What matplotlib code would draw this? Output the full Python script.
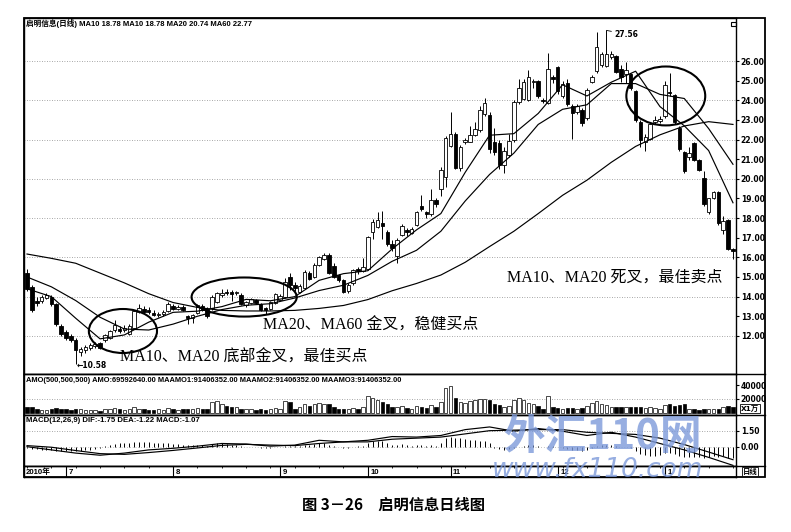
import matplotlib
matplotlib.use("Agg")
import matplotlib.pyplot as plt
from matplotlib.patches import Rectangle, Ellipse
import numpy as np

# ---------------- data ----------------
opens = [15.2, 14.5, 13.8, 13.8, 13.95, 14.0, 13.6, 12.5, 12.2, 12.0,
         11.8, 11.2, 11.3, 11.4, 11.5, 11.65, 11.8, 11.9, 12.3, 12.35,
         12.3, 12.1, 12.4, 13.2, 13.35, 13.3, 13.15, 13.05, 13.1, 13.25,
         13.5, 13.35, 13.45, 13.0, 12.9, 13.15, 13.5, 13.35, 13.4, 13.75,
         14.1, 14.25, 14.25, 14.2, 14.1, 13.55, 13.7, 13.85, 13.65, 13.4,
         13.35, 13.7, 13.85, 14.0, 15.0, 14.6, 14.25, 14.45, 15.2, 15.0,
         15.6, 15.9, 16.1, 15.55, 15.1, 14.85, 14.3, 14.7, 15.4, 15.3,
         15.4, 17.3, 17.55, 17.75, 17.3, 16.7, 16.05, 17.15, 17.4, 17.25,
         17.65, 18.6, 18.3, 18.2, 18.9, 19.5, 20.1, 21.65, 22.3, 20.55,
         21.9, 21.9, 22.25, 22.5, 23.3, 23.25, 21.9, 21.8, 20.7, 21.2,
         22.0, 23.9, 24.05, 24.0, 24.95, 25.0, 24.0, 23.85, 25.2, 25.7,
         24.2, 24.9, 23.7, 23.4, 23.5, 23.1, 24.95, 25.5, 25.8, 25.75,
         26.2, 26.25, 25.6, 25.35, 25.35, 24.45, 22.9, 21.9, 22.05, 22.9,
         22.95, 23.2, 24.4, 24.25, 22.6, 21.35, 21.1, 21.8, 20.95, 20.05,
         18.3, 19.0, 19.35, 17.4, 17.9, 16.45]
highs = [15.4, 14.6, 14.0, 14.1, 14.2, 14.1, 13.7, 12.6, 12.3, 12.1,
         11.9, 11.45, 11.55, 11.65, 11.7, 11.7, 12.1, 12.3, 12.8, 12.5,
         12.55, 12.6, 13.3, 13.6, 13.5, 13.45, 13.3, 13.2, 13.3, 13.75,
         13.6, 13.55, 13.55, 13.05, 13.1, 13.6, 13.6, 13.45, 14.1, 14.25,
         14.4, 14.4, 14.35, 14.3, 14.2, 13.8, 13.95, 13.9, 13.7, 13.45,
         13.8, 14.2, 14.15, 14.95, 15.2, 14.75, 14.65, 15.35, 15.3, 15.7,
         16.05, 16.2, 16.2, 15.7, 15.15, 14.9, 14.7, 15.4, 15.5, 15.95,
         17.1, 17.95, 18.33, 18.35, 17.4, 16.9, 17.0, 17.7, 17.5, 17.55,
         18.35, 19.2, 18.35, 19.5, 19.0, 20.6, 22.2, 23.4, 22.4, 21.7,
         22.1, 22.7, 22.9, 23.7, 24.1, 23.4, 22.6, 22.0, 21.6, 22.3,
         24.0, 25.1, 25.1, 25.55, 25.1, 25.05, 24.1, 26.4, 25.3, 25.75,
         25.0, 25.1, 23.8, 23.8, 23.6, 24.6, 25.3, 27.5, 26.45, 27.56,
         26.5, 26.3, 25.8, 25.95, 25.4, 24.5, 23.0, 22.3, 22.9, 23.2,
         23.2, 25.0, 25.4, 24.3, 22.7, 21.4, 21.6, 21.85, 21.0, 20.4,
         19.0, 19.4, 19.4, 18.1, 17.95, 16.5]
lows = [14.3, 13.2, 13.5, 13.7, 13.9, 13.5, 12.5, 12.0, 11.8, 11.7,
        10.58, 11.0, 11.15, 11.3, 11.4, 11.35, 11.7, 11.85, 12.2, 12.15,
        12.2, 12.05, 12.35, 13.15, 13.1, 13.1, 13.0, 12.95, 13.0, 13.2,
        13.3, 13.3, 13.25, 12.6, 12.65, 13.1, 13.25, 12.9, 13.3, 13.7,
        14.0, 14.1, 13.8, 14.1, 13.55, 13.45, 13.6, 13.6, 13.25, 13.1,
        13.3, 13.65, 13.8, 13.95, 14.35, 14.3, 14.2, 14.4, 14.85, 14.95,
        15.55, 15.85, 15.15, 14.95, 14.75, 14.2, 14.2, 14.6, 15.15, 15.25,
        15.35, 16.95, 17.5, 16.95, 16.6, 16.3, 15.7, 17.1, 17.1, 17.2,
        17.6, 18.35, 18.0, 18.1, 18.55, 19.1, 19.6, 21.6, 20.5, 20.4,
        21.75, 21.85, 22.2, 22.4, 23.2, 21.3, 21.2, 20.5, 20.3, 21.1,
        21.85, 23.8, 24.0, 23.95, 24.6, 24.1, 23.85, 23.8, 24.9, 24.3,
        24.1, 23.7, 22.05, 23.3, 22.7, 23.0, 24.9, 25.4, 25.7, 25.7,
        26.1, 25.4, 24.95, 24.9, 24.5, 22.9, 21.6, 21.4, 22.0, 22.8,
        22.85, 23.1, 24.2, 22.8, 21.4, 20.3, 20.95, 20.9, 20.4, 18.6,
        18.2, 18.95, 17.65, 17.2, 16.35, 15.9]
closes = [14.4, 13.3, 13.7, 14.0, 14.1, 13.6, 12.6, 12.1, 11.9, 11.8,
          11.3, 11.35, 11.45, 11.55, 11.6, 11.4, 12.05, 12.25, 12.55, 12.25,
          12.4, 12.5, 13.25, 13.4, 13.2, 13.2, 13.05, 13.1, 13.2, 13.65,
          13.35, 13.45, 13.3, 12.9, 13.05, 13.55, 13.3, 13.0, 14.0, 14.17,
          14.2, 14.2, 14.15, 14.25, 13.6, 13.75, 13.9, 13.7, 13.3, 13.3,
          13.75, 14.15, 14.05, 14.75, 14.6, 14.45, 14.55, 15.25, 14.9, 15.6,
          16.0, 16.1, 15.2, 15.0, 14.85, 14.26, 14.6, 15.35, 15.3, 15.5,
          17.05, 17.8, 17.9, 17.6, 16.7, 16.5, 16.9, 17.6, 17.3, 17.45,
          18.3, 18.45, 18.2, 18.9, 18.7, 20.45, 22.1, 22.3, 20.55, 21.6,
          22.0, 22.25, 22.55, 23.5, 23.85, 21.5, 21.35, 20.7, 21.4, 21.95,
          23.9, 24.6, 24.95, 25.2, 25.0, 24.2, 23.95, 25.6, 25.1, 24.45,
          24.85, 23.8, 23.35, 23.7, 22.85, 24.5, 25.2, 26.7, 26.35, 26.35,
          26.35, 25.45, 25.2, 25.55, 24.6, 23.0, 22.0, 22.15, 22.8, 23.0,
          23.05, 24.8, 24.35, 22.9, 21.5, 20.4, 21.3, 20.95, 20.45, 18.7,
          19.0, 19.35, 17.75, 17.85, 16.45, 16.3]

# moving averages, read every 5th trading day
ma_idx = list(range(0, 146, 5))
ma10 = [14.4, 14.0, 12.9, 11.85, 12.05, 12.7, 13.2, 13.26, 13.49, 13.86,
        13.79, 14.0, 14.83, 15.17, 15.32, 16.43, 17.4, 18.23, 20.33, 22.22,
        22.3, 23.33, 24.79, 24.22, 24.92, 25.48, 23.68, 22.7, 21.44, 18.78]
ma20 = [15.0, 14.5, 13.8, 12.95, 12.35, 12.3, 12.6, 13.0, 13.34, 13.56,
        13.64, 13.93, 14.31, 14.58, 15.08, 15.8, 16.36, 17.33, 18.87, 20.22,
        21.31, 22.77, 23.54, 23.77, 24.85, 24.85, 24.3, 24.09, 22.56, 20.74]
ma60 = [16.17, 15.95, 15.7, 15.2, 14.7, 14.15, 13.7, 13.45, 13.3, 13.27,
        13.27, 13.3, 13.4, 13.55, 13.85, 14.3, 14.67, 15.1, 15.75, 16.55,
        17.33, 18.23, 19.16, 19.93, 20.84, 21.65, 22.24, 22.69, 22.91, 22.77]

# turnover (x 1万)
amount = [8000, 9000, 5000, 4000, 4000, 5000, 7000, 6000, 5000, 4000,
          6000, 5000, 3500, 4000, 3500, 3000, 5000, 6000, 7000, 5000,
          4000, 5000, 9000, 6000, 5000, 4000, 4000, 5000, 4000, 7000,
          5000, 4500, 5000, 6000, 5000, 7000, 6000, 5000, 15000, 17000,
          12000, 10000, 9000, 8000, 6000, 5000, 5000, 4000, 5000, 4000,
          5000, 7000, 6000, 17000, 15000, 6000, 8000, 12000, 10000, 13000,
          14000, 12000, 13000, 8000, 6000, 6000, 5000, 7000, 6000, 8000,
          24000, 22000, 18000, 15000, 12000, 8000, 8000, 10000, 7000, 6000,
          10000, 9000, 7000, 11000, 8000, 15000, 36000, 39000, 22000, 15000,
          14000, 17000, 19000, 20000, 20000, 18000, 12000, 11000, 9000, 10000,
          19000, 22000, 19000, 14000, 12000, 10000, 6000, 25000, 9000, 7000,
          6000, 7000, 7000, 6000, 7000, 10000, 14000, 17000, 13000, 11000,
          9000, 9000, 8000, 8000, 8000, 9000, 8000, 7000, 8000, 7000,
          6000, 11000, 12000, 10000, 11000, 12000, 5000, 5000, 4000, 6000,
          5000, 5000, 6000, 9000, 10000, 8000]

# MACD lines (every 5th day) and histogram (every day)
dif = [0.0, -0.3, -0.6, -0.8, -0.6, -0.3, -0.15, 0.05, 0.3, 0.25,
       0.05, 0.15, 0.6, 0.45, 0.6, 0.95, 0.9, 1.05, 1.6, 1.85,
       1.45, 1.7, 1.45, 1.05, 1.35, 0.9, 0.3, -0.3, -1.0, -1.75]
dea = [0.1, -0.05, -0.36, -0.65, -0.72, -0.55, -0.35, -0.12, 0.12, 0.22,
       0.15, 0.1, 0.3, 0.45, 0.45, 0.7, 0.8, 0.9, 1.2, 1.5,
       1.55, 1.6, 1.6, 1.35, 1.25, 1.15, 0.8, 0.2, -0.5, -1.22]
macd_hist = [-0.1, -0.2, -0.25, -0.3, -0.3, -0.35, -0.4, -0.45, -0.45, -0.45,
             -0.45, -0.4, -0.35, -0.3, -0.2, -0.1, 0.05, 0.15, 0.25, 0.3,
             0.3, 0.35, 0.45, 0.45, 0.45, 0.4, 0.35, 0.3, 0.3, 0.3,
             0.25, 0.25, 0.2, 0.15, 0.15, 0.2, 0.15, 0.1, 0.25, 0.3,
             0.3, 0.25, 0.2, 0.15, 0.05, 0.0, 0.0, -0.05, -0.1, -0.15,
             -0.1, -0.05, -0.05, 0.05, 0.1, 0.05, 0.05, 0.15, 0.15, 0.25,
             0.35, 0.35, 0.2, 0.1, 0.0, -0.1, -0.1, 0.0, 0.05, 0.1,
             0.35, 0.5, 0.55, 0.5, 0.3, 0.2, 0.2, 0.25, 0.15, 0.1,
             0.15, 0.15, 0.1, 0.15, 0.1, 0.35, 0.8, 0.95, 0.85, 0.8,
             0.75, 0.65, 0.6, 0.55, 0.5, 0.3, -0.1, -0.25, -0.3, -0.25,
             -0.1, 0.0, 0.05, 0.2, 0.2, 0.05, -0.05, 0.1, 0.05, -0.05,
             -0.1, -0.25, -0.35, -0.35, -0.45, -0.3, -0.15, 0.1, 0.15, 0.2,
             0.2, 0.1, 0.0, 0.0, -0.15, -0.4, -0.7, -0.8, -0.85, -0.85,
             -0.8, -0.55, -0.55, -0.7, -0.9, -1.0, -0.95, -0.95, -0.95, -1.05,
             -0.95, -0.85, -0.95, -0.9, -1.05, -1.07]

month_idx = [8, 30, 52, 70, 87, 109, 131]
month_labels = ["7", "8", "9", "10", "11", "12", "1"]
year_label = "2010年"
price_ticks = list(range(12, 27))
amount_ticks = [20000, 40000]
macd_ticks = [0.0, 1.5]

main_title = "启明信息(日线) MA10 18.78 MA10 18.78 MA20 20.74 MA60 22.77"
amo_title = ("AMO(500,500,500) AMO:69592640.00 MAAMO1:91406352.00 "
             "MAAMO2:91406352.00 MAAMO3:91406352.00")
macd_title = "MACD(12,26,9) DIF:-1.75 DEA:-1.22 MACD:-1.07"
note1 = "MA10、MA20 底部金叉，最佳买点"
note2 = "MA20、MA60 金叉，稳健买点"
note3 = "MA10、MA20 死叉，最佳卖点"
caption = "图 3－26　启明信息日线图"

# ---------------- figure ----------------
W, H = 791, 532
fig = plt.figure(figsize=(W / 100, H / 100), dpi=100)
fig.patch.set_facecolor("white")

def fax(x0, y0, x1, y1):
    return fig.add_axes([x0 / W, 1 - y1 / H, (x1 - x0) / W, (y1 - y0) / H])

def ftxt(x, y, s, **kw):
    return fig.text(x / W, 1 - y / H, s, **kw)

SANS = ["Liberation Sans", "Noto Sans CJK SC"]
SERIF = ["Liberation Serif", "Noto Sans CJK SC"]
XL = (-0.62, 145.62)

ax = fax(24, 18, 736, 374)
axv = fax(24, 374, 736, 415)
axm = fax(24, 415, 736, 466)
axd = fax(24, 466, 736, 477)

for a in (ax, axv, axm, axd):
    a.set_xlim(*XL)
    a.set_xticks([])
    for s in a.spines.values():
        s.set_linewidth(1.0)
        s.set_color("black")

def right_ticks(a, ticks, fmt):
    a.yaxis.tick_right()
    a.set_yticks(ticks)
    a.set_yticklabels([fmt(t) for t in ticks])
    a.tick_params(axis="y", direction="out", length=2.5, width=0.8, pad=1,
                  labelsize=5.5)
    for lb in a.get_yticklabels():
        lb.set_fontweight("bold")

idx = np.arange(len(closes))
o = np.array(opens); c = np.array(closes)
h = np.array(highs); l = np.array(lows)
up = c >= o
face = np.where(up, "white", "black")

# ---- main price panel ----
ax.set_ylim(10.06, 28.19)
for v in price_ticks[::2]:
    ax.axhline(v, color="#8a8a8a", lw=0.6, ls=(0, (1, 2)), zorder=0)
ax.vlines(idx, l, h, color="black", lw=0.7, zorder=2)
ax.bar(idx, np.maximum(np.abs(c - o), 0.05), bottom=np.minimum(o, c),
       width=0.72, color=face, edgecolor="black", linewidth=0.6, zorder=3)
for ma in (ma10, ma20, ma60):
    ax.plot(ma_idx, ma, color="black", lw=0.85, zorder=4)
right_ticks(ax, price_ticks, lambda t: f"{t:.2f}")

pk = int(np.argmax(h))
ax.annotate(f"{h[pk]:.2f}", xy=(pk, h[pk]), xytext=(pk + 1.6, h[pk] - 0.2),
            fontsize=5.5, fontweight="bold", va="center", ha="left",
            arrowprops=dict(arrowstyle="-", lw=0.6, color="black",
                            shrinkA=0, shrinkB=0))
lo = int(np.argmin(l))
ax.text(lo + 0.1, l[lo] - 0.07, "←" + f"{l[lo]:.2f}", fontsize=5.5,
        fontweight="bold", va="center", ha="left")

for (cx, cy, ew, eh) in [(19.7, 12.25, 14.0, 2.24),
                         (44.6, 13.98, 21.6, 1.99),
                         (131.2, 24.22, 16.2, 3.0)]:
    ax.add_patch(Ellipse((cx, cy), ew, eh, fill=False, ec="black", lw=1.5,
                         zorder=6))

ax.add_patch(Rectangle((0.9935, 0.977), 0.0065, 0.013, transform=ax.transAxes,
                       fill=False, lw=0.8, ec="black", clip_on=False))

# ---- turnover panel ----
axv.set_ylim(-3400, 56500)
axv.axhline(20000, color="#8a8a8a", lw=0.6, ls=(0, (1, 2)), zorder=0)
axv.bar(idx, amount, width=0.72, color=face, edgecolor="black",
        linewidth=0.5, zorder=2)
right_ticks(axv, amount_ticks, lambda t: f"{t:d}")

# ---- MACD panel ----
axm.set_ylim(-1.81, 2.97)
axm.axhline(1.5, color="#8a8a8a", lw=0.6, ls=(0, (1, 2)), zorder=0)
axm.axhline(0.0, color="#8a8a8a", lw=0.5, ls=(0, (1, 3)), zorder=0)
axm.vlines(idx, 0, macd_hist, color="black", lw=0.7, zorder=2)
axm.plot(ma_idx, dif, color="black", lw=0.85, zorder=3)
axm.plot(ma_idx, dea, color="black", lw=0.85, zorder=3)
right_ticks(axm, macd_ticks, lambda t: f"{t:.2f}")

# ---- date row ----
axd.set_ylim(0, 1)
axd.set_yticks([])
axd.vlines(month_idx, 0, 1, color="black", lw=0.8)
axd.set_xticks(list(range(0, 146, 5)), minor=True)
axd.tick_params(axis="x", which="minor", direction="in", length=1.5,
                width=0.6, top=True, bottom=False)
axd.text(-0.3, 0.45, year_label, fontsize=5.6, fontweight="bold",
         va="center", ha="left", family=SANS)
for m, s in zip(month_idx, month_labels):
    axd.text(m + 0.5, 0.45, s, fontsize=5.6, fontweight="bold",
             va="center", ha="left", family=SANS, zorder=5)

# ---- frame & separators ----
fig.add_artist(Rectangle((24 / W, 1 - 477 / H), (765 - 24) / W, (477 - 18) / H,
                         transform=fig.transFigure, fill=False, lw=1.3,
                         ec="black"))
for yy in (374, 415, 466):
    fig.add_artist(plt.Line2D([24 / W, 765 / W], [1 - yy / H, 1 - yy / H],
                              transform=fig.transFigure, color="black", lw=1.0))

# ---- texts ----
ftxt(26, 23.5, main_title, fontsize=5.5, fontweight="bold", va="center",
     ha="left", family=SANS)
ftxt(26, 380, amo_title, fontsize=5.4, fontweight="bold", va="center",
     ha="left", family=SANS)
ftxt(26, 420.5, macd_title, fontsize=5.6, fontweight="bold", va="center",
     ha="left", family=SANS)
ftxt(750, 408.5, "X1万", fontsize=5.3, fontweight="bold", ha="center",
     va="center", family=["DejaVu Sans", "Noto Sans CJK SC"],
     bbox=dict(boxstyle="square,pad=0.15", fc="white", ec="black", lw=0.6))
ftxt(750, 471.5, "日线", fontsize=5.3, fontweight="bold", ha="center",
     va="center", family=["Noto Sans CJK SC", "DejaVu Sans"],
     bbox=dict(boxstyle="square,pad=0.1", fc="white", ec="black", lw=0.6))

ftxt(120, 358, note1, fontsize=11.5, va="center", ha="left", family=SERIF)
ftxt(263, 326, note2, fontsize=11.5, va="center", ha="left", family=SERIF)
ftxt(507, 278, note3, fontsize=11.5, va="center", ha="left", family=SERIF)

# watermark (as in the reference)
ftxt(602, 437, "外汇110网", fontsize=30, fontweight="bold", color="#7d9ada",
     alpha=0.8, ha="center", va="center",
     family=["Noto Sans CJK SC", "DejaVu Sans"])
ftxt(598, 470, "www.fx110.com", fontsize=19, style="italic", color="#7d9ada",
     alpha=0.8, ha="center", va="center", family=["DejaVu Sans"])

ftxt(394, 505, caption, fontsize=11, fontweight="bold", ha="center",
     va="center", family=["Noto Sans CJK SC", "DejaVu Sans"])

fig.savefig("out.png", dpi=100, facecolor="white")
